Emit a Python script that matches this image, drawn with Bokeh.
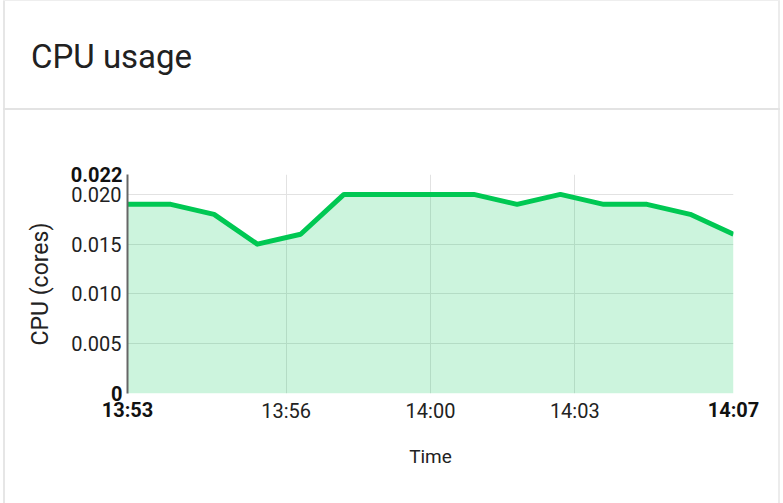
import pandas as pd
from bokeh.plotting import figure
from bokeh.models import (Div, FixedTicker, DatetimeTickFormatter, NumeralTickFormatter,
                          Range1d, DatetimeAxis, LinearAxis)
from bokeh.layouts import column
from bokeh.embed import file_html
from bokeh.resources import INLINE

# ---------------- data ----------------
title_text = "CPU usage"
day = "2024-01-01 "
times = ["13:53", "13:54", "13:55", "13:56", "13:57", "13:58", "13:59", "14:00",
         "14:01", "14:02", "14:03", "14:04", "14:05", "14:06", "14:07"]
cpu = [0.019, 0.019, 0.018, 0.015, 0.016, 0.020, 0.020, 0.020,
       0.020, 0.019, 0.020, 0.019, 0.019, 0.018, 0.016]
x_tick_times = ["13:56:40", "14:00:00", "14:03:20"]
y_ticks = [0.005, 0.010, 0.015, 0.020]
y_min = 0
y_max = 0.022
x_axis_label = "Time"
y_axis_label = "CPU (cores)"

FONT = "Roboto"

t_ms = [pd.Timestamp(day + s).value / 1e6 for s in times]
x_ticks_ms = [pd.Timestamp(day + s).value / 1e6 for s in x_tick_times]

# ---------------- header (card top) ----------------
W = 783
header_html = (
    f'<div style="position:relative;width:{W}px;height:110px;">'
    f'<div style="position:absolute;left:3px;top:0px;width:777px;height:503px;box-sizing:border-box;'
    f'border-left:2px solid #e6e6e6;border-right:2px solid #ececec;pointer-events:none;"></div>'
    f'<div style="position:absolute;left:3px;top:0px;width:777px;height:110px;box-sizing:border-box;'
    f'border-top:1px solid #eeeeee;border-bottom:2px solid #e3e3e3;"></div>'
    f'<span style="position:absolute;left:31px;top:40px;font-family:{FONT};'
    f'font-size:33px;line-height:33px;color:#212121;white-space:nowrap;">{title_text}</span></div>'
)
header = Div(text=header_html, width=W, height=110, margin=0)

# ---------------- figure ----------------
p = figure(width=W, height=393, x_axis_type="datetime",
           x_range=Range1d(start=t_ms[0], end=t_ms[-1]),
           y_range=Range1d(start=y_min, end=y_max),
           output_backend="svg", toolbar_location=None,
           min_border_left=127, min_border_right=50,
           min_border_top=64, min_border_bottom=110)
p.outline_line_color = None
p.border_fill_color = None
p.background_fill_color = "#ffffff"

p.varea(x=t_ms, y1=[0] * len(cpu), y2=cpu, fill_color="#00c853", fill_alpha=0.2)
p.line(x=t_ms, y=cpu, line_color="#00c853", line_width=5, line_join="round")

fmt = dict(microseconds="%H:%M", milliseconds="%H:%M", seconds="%H:%M", minsec="%H:%M",
           minutes="%H:%M", hourmin="%H:%M", hours="%H:%M")

# x axis (normal inner ticks)
xa = p.xaxis[0]
xa.ticker = FixedTicker(ticks=x_ticks_ms)
xa.formatter = DatetimeTickFormatter(**fmt)
xa.axis_line_color = None
xa.major_tick_line_color = None
xa.minor_tick_line_color = None
xa.major_label_standoff = -1
xa.major_label_text_font = FONT
xa.major_label_text_font_size = "20px"
xa.major_label_text_color = "#222222"

# x axis (bold end ticks), stacked below and pulled up onto the same line
xb = DatetimeAxis(ticker=FixedTicker(ticks=[t_ms[0], t_ms[-1]]),
                  formatter=DatetimeTickFormatter(**fmt))
xb.axis_line_color = None
xb.major_tick_line_color = None
xb.minor_tick_line_color = None
xb.major_label_standoff = -34
xb.major_label_text_font = FONT
xb.major_label_text_font_size = "20px"
xb.major_label_text_font_style = "bold"
xb.major_label_text_color = "#111111"
xb.axis_label = x_axis_label
xb.axis_label_text_font = FONT
xb.axis_label_text_font_size = "19px"
xb.axis_label_text_font_style = "normal"
xb.axis_label_text_color = "#222222"
xb.axis_label_standoff = 20
p.add_layout(xb, "below")

# y axis (normal inner ticks)
ya = p.yaxis[0]
ya.ticker = FixedTicker(ticks=y_ticks)
ya.formatter = NumeralTickFormatter(format="0.000")
ya.axis_line_color = "#666666"
ya.axis_line_width = 2
ya.major_tick_line_color = None
ya.minor_tick_line_color = None
ya.major_label_standoff = 0
ya.major_label_text_font = FONT
ya.major_label_text_font_size = "20px"
ya.major_label_text_color = "#222222"

# y axis (bold min / max), stacked left and pulled onto the same column
yb = LinearAxis(ticker=FixedTicker(ticks=[y_min, y_max]),
                formatter=NumeralTickFormatter(format="0.[000]"))
yb.axis_line_color = None
yb.major_tick_line_color = None
yb.minor_tick_line_color = None
yb.major_label_standoff = -60
yb.major_label_text_font = FONT
yb.major_label_text_font_size = "20px"
yb.major_label_text_font_style = "bold"
yb.major_label_text_color = "#111111"
yb.axis_label = y_axis_label
yb.axis_label_text_font = FONT
yb.axis_label_text_font_size = "23px"
yb.axis_label_text_font_style = "normal"
yb.axis_label_text_color = "#222222"
yb.axis_label_standoff = 14
p.add_layout(yb, "left")

p.grid.grid_line_color = "#e2e2e2"
p.grid.grid_line_width = 1

layout = column(header, p, spacing=0)
open("out.html", "w").write(file_html(layout, INLINE))
